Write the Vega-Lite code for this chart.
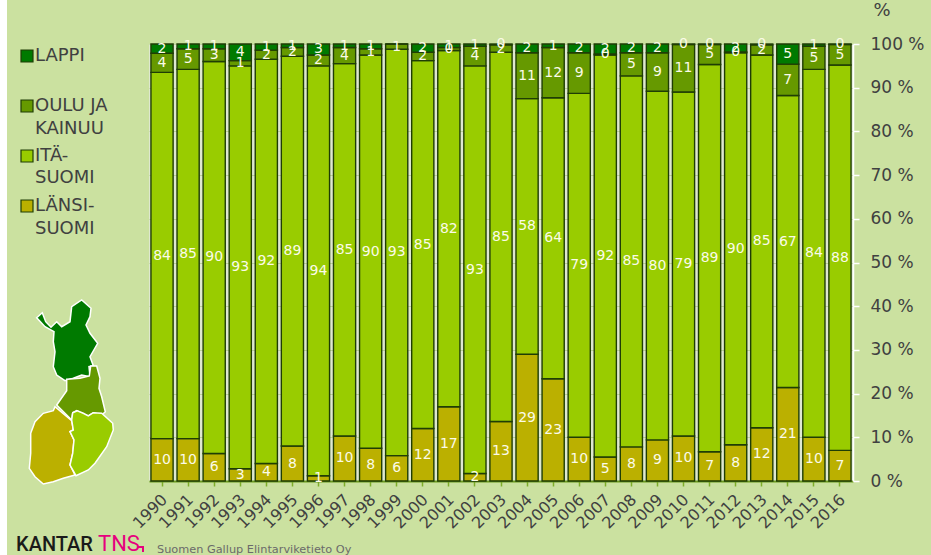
{
"$schema":"https://vega.github.io/schema/vega-lite/v6.json",
"width":704,"height":437,
"autosize":{"type":"none"},
"padding":{"left":149,"top":44,"right":78,"bottom":74},
"background":"#cbe1a0",
"view":{"fill":"#dfe8d0","stroke":null},
"config":{"font":"DejaVu Sans"},
"datasets":{
"shares":[
{"year":"1990","region":"LÄNSI-SUOMI","rank":1,"value":9.7,"label":"10"},{"year":"1990","region":"ITÄ-SUOMI","rank":2,"value":83.8,"label":"84"},{"year":"1990","region":"OULU JA KAINUU","rank":3,"value":4.4,"label":"4"},{"year":"1990","region":"LAPPI","rank":4,"value":2.1,"label":"2"},
{"year":"1991","region":"LÄNSI-SUOMI","rank":1,"value":9.7,"label":"10"},{"year":"1991","region":"ITÄ-SUOMI","rank":2,"value":84.5,"label":"85"},{"year":"1991","region":"OULU JA KAINUU","rank":3,"value":4.7,"label":"5"},{"year":"1991","region":"LAPPI","rank":4,"value":1.1,"label":"1"},
{"year":"1992","region":"LÄNSI-SUOMI","rank":1,"value":6.3,"label":"6"},{"year":"1992","region":"ITÄ-SUOMI","rank":2,"value":89.7,"label":"90"},{"year":"1992","region":"OULU JA KAINUU","rank":3,"value":2.9,"label":"3"},{"year":"1992","region":"LAPPI","rank":4,"value":1.1,"label":"1"},
{"year":"1993","region":"LÄNSI-SUOMI","rank":1,"value":2.8,"label":"3"},{"year":"1993","region":"ITÄ-SUOMI","rank":2,"value":92.2,"label":"93"},{"year":"1993","region":"OULU JA KAINUU","rank":3,"value":1.2,"label":"1"},{"year":"1993","region":"LAPPI","rank":4,"value":3.8,"label":"4"},
{"year":"1994","region":"LÄNSI-SUOMI","rank":1,"value":4.0,"label":"4"},{"year":"1994","region":"ITÄ-SUOMI","rank":2,"value":92.5,"label":"92"},{"year":"1994","region":"OULU JA KAINUU","rank":3,"value":2.1,"label":"2"},{"year":"1994","region":"LAPPI","rank":4,"value":1.4,"label":"1"},
{"year":"1995","region":"LÄNSI-SUOMI","rank":1,"value":8.0,"label":"8"},{"year":"1995","region":"ITÄ-SUOMI","rank":2,"value":89.2,"label":"89"},{"year":"1995","region":"OULU JA KAINUU","rank":3,"value":2.0,"label":"2"},{"year":"1995","region":"LAPPI","rank":4,"value":0.8,"label":"1"},
{"year":"1996","region":"LÄNSI-SUOMI","rank":1,"value":1.2,"label":"1"},{"year":"1996","region":"ITÄ-SUOMI","rank":2,"value":93.8,"label":"94"},{"year":"1996","region":"OULU JA KAINUU","rank":3,"value":2.5,"label":"2"},{"year":"1996","region":"LAPPI","rank":4,"value":2.5,"label":"3"},
{"year":"1997","region":"LÄNSI-SUOMI","rank":1,"value":10.3,"label":"10"},{"year":"1997","region":"ITÄ-SUOMI","rank":2,"value":85.2,"label":"85"},{"year":"1997","region":"OULU JA KAINUU","rank":3,"value":3.7,"label":"4"},{"year":"1997","region":"LAPPI","rank":4,"value":0.8,"label":"1"},
{"year":"1998","region":"LÄNSI-SUOMI","rank":1,"value":7.5,"label":"8"},{"year":"1998","region":"ITÄ-SUOMI","rank":2,"value":90.0,"label":"90"},{"year":"1998","region":"OULU JA KAINUU","rank":3,"value":1.4,"label":"1"},{"year":"1998","region":"LAPPI","rank":4,"value":1.1,"label":"1"},
{"year":"1999","region":"LÄNSI-SUOMI","rank":1,"value":5.8,"label":"6"},{"year":"1999","region":"ITÄ-SUOMI","rank":2,"value":93.0,"label":"93"},{"year":"1999","region":"OULU JA KAINUU","rank":3,"value":1.2,"label":"1"},{"year":"1999","region":"LAPPI","rank":4,"value":0,"label":""},
{"year":"2000","region":"LÄNSI-SUOMI","rank":1,"value":12.0,"label":"12"},{"year":"2000","region":"ITÄ-SUOMI","rank":2,"value":84.2,"label":"85"},{"year":"2000","region":"OULU JA KAINUU","rank":3,"value":1.9,"label":"2"},{"year":"2000","region":"LAPPI","rank":4,"value":1.9,"label":"2"},
{"year":"2001","region":"LÄNSI-SUOMI","rank":1,"value":17.0,"label":"17"},{"year":"2001","region":"ITÄ-SUOMI","rank":2,"value":81.5,"label":"82"},{"year":"2001","region":"OULU JA KAINUU","rank":3,"value":0.7,"label":"0"},{"year":"2001","region":"LAPPI","rank":4,"value":0.8,"label":"1"},
{"year":"2002","region":"LÄNSI-SUOMI","rank":1,"value":1.7,"label":"2"},{"year":"2002","region":"ITÄ-SUOMI","rank":2,"value":93.3,"label":"93"},{"year":"2002","region":"OULU JA KAINUU","rank":3,"value":4.5,"label":"4"},{"year":"2002","region":"LAPPI","rank":4,"value":0.5,"label":"1"},
{"year":"2003","region":"LÄNSI-SUOMI","rank":1,"value":13.6,"label":"13"},{"year":"2003","region":"ITÄ-SUOMI","rank":2,"value":84.5,"label":"85"},{"year":"2003","region":"OULU JA KAINUU","rank":3,"value":1.7,"label":"2"},{"year":"2003","region":"LAPPI","rank":4,"value":0.2,"label":"0"},
{"year":"2004","region":"LÄNSI-SUOMI","rank":1,"value":29.0,"label":"29"},{"year":"2004","region":"ITÄ-SUOMI","rank":2,"value":58.5,"label":"58"},{"year":"2004","region":"OULU JA KAINUU","rank":3,"value":10.5,"label":"11"},{"year":"2004","region":"LAPPI","rank":4,"value":2.0,"label":"2"},
{"year":"2005","region":"LÄNSI-SUOMI","rank":1,"value":23.4,"label":"23"},{"year":"2005","region":"ITÄ-SUOMI","rank":2,"value":64.3,"label":"64"},{"year":"2005","region":"OULU JA KAINUU","rank":3,"value":11.5,"label":"12"},{"year":"2005","region":"LAPPI","rank":4,"value":0.8,"label":"1"},
{"year":"2006","region":"LÄNSI-SUOMI","rank":1,"value":10.0,"label":"10"},{"year":"2006","region":"ITÄ-SUOMI","rank":2,"value":78.7,"label":"79"},{"year":"2006","region":"OULU JA KAINUU","rank":3,"value":9.3,"label":"9"},{"year":"2006","region":"LAPPI","rank":4,"value":2.0,"label":"2"},
{"year":"2007","region":"LÄNSI-SUOMI","rank":1,"value":5.5,"label":"5"},{"year":"2007","region":"ITÄ-SUOMI","rank":2,"value":92.0,"label":"92"},{"year":"2007","region":"OULU JA KAINUU","rank":3,"value":0.2,"label":"0"},{"year":"2007","region":"LAPPI","rank":4,"value":2.3,"label":"2"},
{"year":"2008","region":"LÄNSI-SUOMI","rank":1,"value":7.8,"label":"8"},{"year":"2008","region":"ITÄ-SUOMI","rank":2,"value":84.9,"label":"85"},{"year":"2008","region":"OULU JA KAINUU","rank":3,"value":5.3,"label":"5"},{"year":"2008","region":"LAPPI","rank":4,"value":2.0,"label":"2"},
{"year":"2009","region":"LÄNSI-SUOMI","rank":1,"value":9.4,"label":"9"},{"year":"2009","region":"ITÄ-SUOMI","rank":2,"value":79.8,"label":"80"},{"year":"2009","region":"OULU JA KAINUU","rank":3,"value":8.8,"label":"9"},{"year":"2009","region":"LAPPI","rank":4,"value":2.0,"label":"2"},
{"year":"2010","region":"LÄNSI-SUOMI","rank":1,"value":10.3,"label":"10"},{"year":"2010","region":"ITÄ-SUOMI","rank":2,"value":78.7,"label":"79"},{"year":"2010","region":"OULU JA KAINUU","rank":3,"value":10.9,"label":"11"},{"year":"2010","region":"LAPPI","rank":4,"value":0.1,"label":"0"},
{"year":"2011","region":"LÄNSI-SUOMI","rank":1,"value":6.7,"label":"7"},{"year":"2011","region":"ITÄ-SUOMI","rank":2,"value":88.6,"label":"89"},{"year":"2011","region":"OULU JA KAINUU","rank":3,"value":4.6,"label":"5"},{"year":"2011","region":"LAPPI","rank":4,"value":0.1,"label":"0"},
{"year":"2012","region":"LÄNSI-SUOMI","rank":1,"value":8.3,"label":"8"},{"year":"2012","region":"ITÄ-SUOMI","rank":2,"value":89.7,"label":"90"},{"year":"2012","region":"OULU JA KAINUU","rank":3,"value":0.2,"label":"0"},{"year":"2012","region":"LAPPI","rank":4,"value":1.8,"label":"2"},
{"year":"2013","region":"LÄNSI-SUOMI","rank":1,"value":12.2,"label":"12"},{"year":"2013","region":"ITÄ-SUOMI","rank":2,"value":85.3,"label":"85"},{"year":"2013","region":"OULU JA KAINUU","rank":3,"value":2.3,"label":"2"},{"year":"2013","region":"LAPPI","rank":4,"value":0.2,"label":"0"},
{"year":"2014","region":"LÄNSI-SUOMI","rank":1,"value":21.4,"label":"21"},{"year":"2014","region":"ITÄ-SUOMI","rank":2,"value":66.8,"label":"67"},{"year":"2014","region":"OULU JA KAINUU","rank":3,"value":7.2,"label":"7"},{"year":"2014","region":"LAPPI","rank":4,"value":4.6,"label":"5"},
{"year":"2015","region":"LÄNSI-SUOMI","rank":1,"value":10.0,"label":"10"},{"year":"2015","region":"ITÄ-SUOMI","rank":2,"value":84.2,"label":"84"},{"year":"2015","region":"OULU JA KAINUU","rank":3,"value":5.3,"label":"5"},{"year":"2015","region":"LAPPI","rank":4,"value":0.5,"label":"1"},
{"year":"2016","region":"LÄNSI-SUOMI","rank":1,"value":7.0,"label":"7"},{"year":"2016","region":"ITÄ-SUOMI","rank":2,"value":88.2,"label":"88"},{"year":"2016","region":"OULU JA KAINUU","rank":3,"value":4.7,"label":"5"},{"year":"2016","region":"LAPPI","rank":4,"value":0.1,"label":"0"}
]
},
"layer":[
{"data":{"name":"shares"},
 "mark":{"type":"bar","stroke":"#1f3d05","strokeWidth":1.4},
 "encoding":{
  "x":{"field":"year","type":"ordinal","title":null,"scale":{"paddingInner":0.15,"paddingOuter":0.075},
   "axis":{"labelAngle":-45,"labelFontSize":16,"labelColor":"#404040","labelPadding":5,"labelOffset":-3,"domainColor":"#6b9a1e","domainWidth":2,"tickColor":"#7fae2a","tickSize":5,"tickWidth":1.5,"grid":false}},
  "y":{"field":"value","type":"quantitative","stack":"zero","scale":{"domain":[0,100]},"title":"%",
   "axis":{"orient":"right","values":[0,10,20,30,40,50,60,70,80,90,100],"labelExpr":"datum.value+' %'","labelFontSize":17,"labelColor":"#404040","labelPadding":11,"domainColor":"#ffffff","domainWidth":1.5,"tickColor":"#ffffff","tickSize":6,"tickWidth":1.5,"grid":true,"gridColor":"#bcd19c","gridWidth":1.2,"titleAngle":0,"titleFontSize":18,"titleFontWeight":"normal","titleColor":"#404040","titleX":20,"titleY":-34,"titleAlign":"left","titleBaseline":"middle"}},
  "color":{"field":"region","type":"nominal","scale":{"domain":["LAPPI","OULU JA KAINUU","ITÄ-SUOMI","LÄNSI-SUOMI"],"range":["#007a00","#669900","#99cc00","#bbb000"]},
   "legend":{"orient":"none","legendX":-131,"legendY":-3,"title":null,"symbolType":"square","symbolSize":144,"symbolStrokeColor":"#1f3d05","symbolStrokeWidth":1.2,"symbolOpacity":1,"labelFontSize":18,"labelColor":"#404040","labelOffset":-1,"labelLimit":120,"clipHeight":30,"rowPadding":20,"labelExpr":"datum.label=='OULU JA KAINUU'?'OULU JA':datum.label=='ITÄ-SUOMI'?'ITÄ-':datum.label=='LÄNSI-SUOMI'?'LÄNSI-':datum.label"}},
  "order":{"field":"rank","type":"quantitative"}
 }},
{"data":{"name":"shares"},
 "mark":{"type":"text","fill":"#fbfbe8","fontSize":14,"align":"center","baseline":"middle"},
 "encoding":{
  "x":{"field":"year","type":"ordinal"},
  "y":{"field":"value","type":"quantitative","stack":"zero","bandPosition":0.5},
  "text":{"field":"label","type":"nominal"},
  "order":{"field":"rank","type":"quantitative"}
 }},
{"data":{"values":{"type":"FeatureCollection","features":[
{"type":"Feature","properties":{"region":"LAPPI"},"geometry":{"type":"Polygon","coordinates":[[[6.7,172.3],[12.3,177.3],[15.7,168.3],[21,162.7],[26.7,168.3],[31.7,163.3],[40,168.3],[41.7,183.3],[51.7,190],[61,181.7],[60,173.3],[56,165],[60,156.7],[67.7,146.7],[60,133.3],[63.3,124.3],[59,123.3],[60,113.3],[51.7,115],[43.3,111.7],[35,109.3],[26.7,115],[23.3,123.3],[25,138.3],[23.3,148.3],[24,158.3],[15,163.3],[6.7,172.3]]]}},
{"type":"Feature","properties":{"region":"OULU JA KAINUU"},"geometry":{"type":"Polygon","coordinates":[[[36.7,110.7],[50,111.7],[59.3,114],[60.7,124],[66.7,124],[70,111.7],[69,101.7],[71.7,93.3],[75.3,78.3],[71.7,75],[63.3,77.3],[58.3,74],[51.7,76.7],[46.7,79.3],[42.7,77.3],[41.7,70],[26.7,85],[36.7,99.3],[36.7,110.7]]]}},
{"type":"Feature","properties":{"region":"LÄNSI-SUOMI"},"geometry":{"type":"Polygon","coordinates":[[[25,83.3],[41.7,69.3],[43.3,60],[40,58.3],[44,50],[42.7,36.7],[40,25],[45,15],[33.3,11.7],[23.3,8.3],[13.3,6],[5,13.3],[-0.7,21.7],[0.7,36.7],[0.7,56.7],[5,68.3],[13.3,76.7],[23.3,79.3],[25,83.3]]]}},
{"type":"Feature","properties":{"region":"ITÄ-SUOMI"},"geometry":{"type":"Polygon","coordinates":[[[42.7,77.3],[47.3,79.3],[53.3,76.7],[58.3,74],[63.3,77.3],[71.7,76.7],[82.7,66.7],[83.3,60],[76.7,43.3],[65,26.7],[58.3,20],[46,14.3],[40,25],[42.7,36.7],[44,50],[40,58.3],[43.3,60],[41.7,70],[42.7,77.3]]]}}
]},"format":{"type":"json","property":"features"}},
 "projection":{"type":"identity","reflectY":true,"scale":1,"translate":[-119,446]},
 "mark":{"type":"geoshape","stroke":"#ffffff","strokeWidth":1.5,"clip":false},
 "encoding":{"color":{"field":"properties.region","type":"nominal","legend":null}}},
{"data":{"values":{"type":"FeatureCollection","features":[
{"type":"Feature","properties":{},"geometry":{"type":"Polygon","coordinates":[[[-30,490],[-23,490],[-23,-65],[-30,-65],[-30,490]]]}}
]},"format":{"type":"json","property":"features"}},
 "projection":{"type":"identity","reflectY":true,"scale":1,"translate":[-119,446]},
 "mark":{"type":"geoshape","fill":"#ffffff","stroke":null,"clip":false},
 "encoding":{}},
{"data":{"values":{"type":"FeatureCollection","features":[
{"type":"Feature","properties":{},"geometry":{"type":"Polygon","coordinates":[[[108,-56],[114,-56],[114,-62],[112,-62],[112,-58],[108,-58],[108,-56]]]}}
]},"format":{"type":"json","property":"features"}},
 "projection":{"type":"identity","reflectY":true,"scale":1,"translate":[-119,446]},
 "mark":{"type":"geoshape","fill":"#e6007e","stroke":null,"clip":false},
 "encoding":{}},
{"data":{"values":[
{"name":"KAINUU","lon":5,"lat":361},
{"name":"SUOMI","lon":5,"lat":312},
{"name":"SUOMI","lon":5,"lat":261}
]},
 "projection":{"type":"identity","reflectY":true,"scale":1,"translate":[-119,446]},
 "mark":{"type":"text","align":"left","baseline":"middle","fontSize":18,"fill":"#404040","clip":false},
 "encoding":{"longitude":{"field":"lon","type":"quantitative"},"latitude":{"field":"lat","type":"quantitative"},"text":{"field":"name","type":"nominal"}}},
{"data":{"values":[
{"name":"KANTAR","lon":-14,"lat":-61}
]},
 "projection":{"type":"identity","reflectY":true,"scale":1,"translate":[-119,446]},
 "mark":{"type":"text","align":"left","baseline":"alphabetic","fontSize":20,"font":"Roboto","fontWeight":500,"fill":"#1a1a1a","clip":false},
 "encoding":{"longitude":{"field":"lon","type":"quantitative"},"latitude":{"field":"lat","type":"quantitative"},"text":{"field":"name","type":"nominal"}}},
{"data":{"values":[
{"name":"TNS","lon":68,"lat":-61}
]},
 "projection":{"type":"identity","reflectY":true,"scale":1,"translate":[-119,446]},
 "mark":{"type":"text","align":"left","baseline":"alphabetic","fontSize":22,"font":"Roboto","fontWeight":400,"fill":"#e6007e","clip":false},
 "encoding":{"longitude":{"field":"lon","type":"quantitative"},"latitude":{"field":"lat","type":"quantitative"},"text":{"field":"name","type":"nominal"}}},
{"data":{"values":[
{"name":"Suomen Gallup Elintarviketieto Oy","lon":127,"lat":-63}
]},
 "projection":{"type":"identity","reflectY":true,"scale":1,"translate":[-119,446]},
 "mark":{"type":"text","align":"left","baseline":"alphabetic","fontSize":11.3,"fill":"#6a6a6a","clip":false},
 "encoding":{"longitude":{"field":"lon","type":"quantitative"},"latitude":{"field":"lat","type":"quantitative"},"text":{"field":"name","type":"nominal"}}}
]
}
